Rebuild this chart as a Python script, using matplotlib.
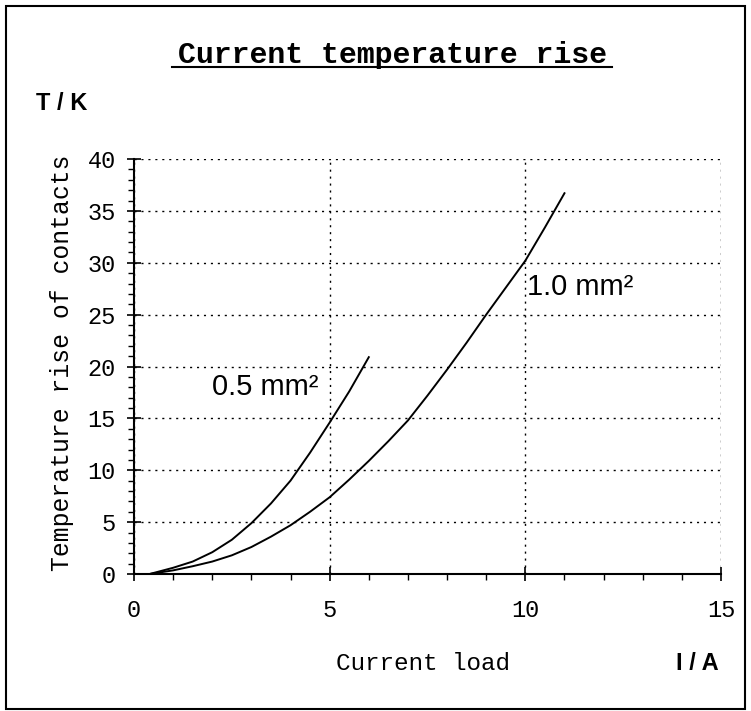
import matplotlib
matplotlib.use("Agg")
import matplotlib.pyplot as plt
from matplotlib.ticker import MultipleLocator
from matplotlib.patches import Rectangle

# Data
I_05 = [0.4, 1.0, 1.5, 2.0, 2.5, 3.0, 3.5, 4.0, 4.5, 5.0, 5.5, 6.0]
T_05 = [0.0, 0.6, 1.2, 2.1, 3.3, 4.9, 6.8, 9.0, 11.7, 14.6, 17.6, 20.9]
I_10 = [0.4, 1.0, 1.5, 2.0, 2.5, 3.0, 3.5, 4.0, 4.5, 5.0, 5.5, 6.0, 6.5, 7.0,
        7.5, 8.0, 8.5, 9.0, 9.5, 10.0, 10.5, 11.0]
T_10 = [0.0, 0.35, 0.75, 1.2, 1.8, 2.6, 3.6, 4.7, 6.0, 7.4, 9.1, 10.9, 12.8, 14.8,
        17.2, 19.7, 22.3, 25.0, 27.6, 30.2, 33.4, 36.7]

title = "Current temperature rise"
xlabel = "Current load"
ylabel = "Temperature rise of contacts"
xunit = "I / A"
yunit = "T / K"
label_05 = "0.5 mm²"
label_10 = "1.0 mm²"
x_ticks = [0, 5, 10, 15]
y_ticks = [0, 5, 10, 15, 20, 25, 30, 35, 40]

mono = "Liberation Mono"
sans = "Liberation Sans"

W, H = 751, 711
fig = plt.figure(figsize=(W / 100, H / 100), dpi=100)
fig.patch.set_facecolor("white")

left, right, bottom, top = 134, 721, 574, 159
ax = fig.add_axes([left / W, 1 - bottom / H, (right - left) / W, (bottom - top) / H])

ax.plot(I_05, T_05, color="black", lw=1.4)
ax.plot(I_10, T_10, color="black", lw=1.4)

ax.set_xlim(0, 15)
ax.set_ylim(0, 40)
ax.set_xticks(x_ticks)
ax.set_yticks(y_ticks)
ax.xaxis.set_minor_locator(MultipleLocator(1))
ax.yaxis.set_minor_locator(MultipleLocator(1))

ax.grid(True, which="major", color="black", linestyle=(0, (1.5, 3.5)), lw=1.0)
for s in ["top", "right"]:
    ax.spines[s].set_visible(False)
for s in ["left", "bottom"]:
    ax.spines[s].set_linewidth(1.5)

ax.tick_params(axis="both", which="major", direction="inout", length=10, width=1.2,
               labelsize=17)
ax.tick_params(axis="both", which="minor", direction="out", length=4, width=1.0)
ax.tick_params(axis="x", which="major", pad=13)
ax.tick_params(axis="y", which="major", pad=8)
for lab in ax.get_xticklabels() + ax.get_yticklabels():
    lab.set_fontfamily(mono)

ax.text(2.0, 18.0, label_05, fontsize=21, family=sans, ha="left", va="center")
ax.text(10.05, 27.7, label_10, fontsize=21, family=sans, ha="left", va="center")

# Labels
fig.text(392 / W, 1 - 55 / H, title, fontsize=21.5, family=mono, weight="bold",
         ha="center", va="center")
fig.add_artist(plt.Line2D([172 / W, 612 / W], [1 - 67 / H, 1 - 67 / H],
                          color="black", lw=1.5))
fig.text(36 / W, 1 - 104 / H, yunit, fontsize=17, family=sans, weight="bold",
         ha="left", va="center")
fig.text(423 / W, 1 - 663 / H, xlabel, fontsize=17.5, family=mono,
         ha="center", va="center")
fig.text(697 / W, 1 - 663 / H, xunit, fontsize=17, family=sans, weight="bold",
         ha="center", va="center")
fig.text(62 / W, 1 - 363 / H, ylabel, fontsize=17.8, family=mono, rotation=90,
         ha="center", va="center")

# Outer frame
fig.add_artist(Rectangle((6 / W, 2 / H), 739 / W, 703 / H, transform=fig.transFigure,
                         fill=False, edgecolor="black", lw=1.5))

fig.savefig("out.png", dpi=100)
